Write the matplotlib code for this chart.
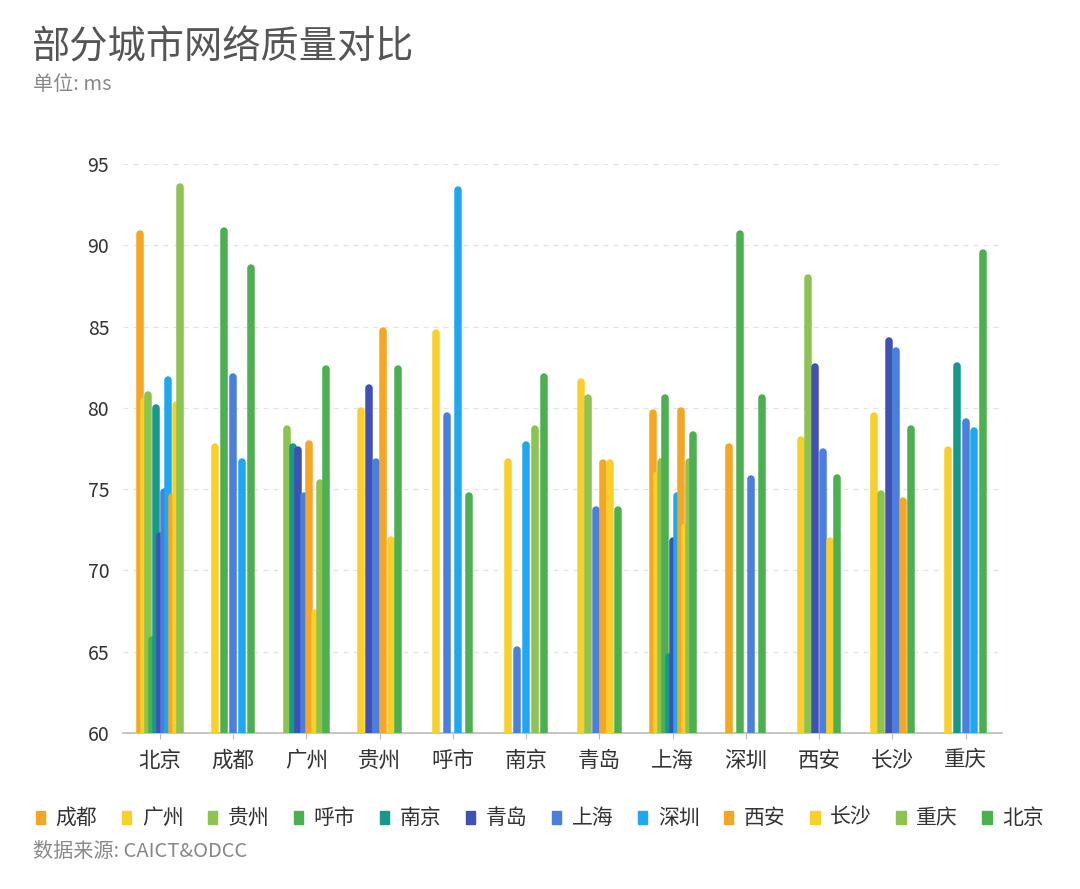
import numpy as np
import matplotlib
matplotlib.use("Agg")
import matplotlib.pyplot as plt
from matplotlib.patches import Rectangle

plt.rcParams['font.family'] = ['Noto Sans CJK SC', 'DejaVu Sans']

# x categories (city groups) and series (legend order)
cities = ['北京', '成都', '广州', '贵州', '呼市', '南京', '青岛', '上海', '深圳', '西安', '长沙', '重庆']
series = ['成都', '广州', '贵州', '呼市', '南京', '青岛', '上海', '深圳', '西安', '长沙', '重庆', '北京']
colors = ['#F5A623', '#F9D02A', '#8DC350', '#4CAF50', '#17998A', '#3F51B5',
          '#4A7FDB', '#1DA8F0', '#F5A623', '#F9D02A', '#8DC350', '#4CAF50']

N = None
# values per series, one entry per city group (None = no bar)
v_chengdu   = [90.9, N, N, N, N, N, N, 79.9, 77.8, N, N, N]
v_guangzhou = [80.6, 77.8, N, 80.0, 84.8, 76.9, 81.8, 76.1, N, 78.2, 79.7, 77.6]
v_guizhou   = [81.0, N, 78.9, N, N, N, 80.8, 76.9, N, 88.2, 74.9, N]
v_hushi     = [65.9, 91.1, N, N, N, N, N, 80.8, 90.9, N, N, N]
v_nanjing   = [80.2, N, 77.8, N, N, N, N, 64.9, N, N, N, 82.8]
v_qingdao   = [72.3, N, 77.6, 81.4, N, N, N, 72.0, N, 82.7, 84.3, N]
v_shanghai  = [75.0, 82.1, 74.8, 76.9, 79.7, 65.3, 73.9, N, 75.8, 77.5, 83.7, 79.3]
v_shenzhen  = [81.9, 76.9, N, N, 93.6, 77.9, N, 74.8, N, N, N, 78.8]
v_xian      = [74.7, N, 78.0, 84.9, N, N, 76.8, 80.0, N, N, 74.5, N]
v_changsha  = [80.4, N, 67.6, 72.1, N, N, 76.8, 72.9, N, 72.0, N, N]
v_chongqing = [93.8, N, 75.6, N, N, 78.9, N, 76.9, N, N, N, N]
v_beijing   = [N, 88.8, 82.6, 82.6, 74.8, 82.1, 73.9, 78.5, 80.8, 75.9, 78.9, 89.7]

values = [v_chengdu, v_guangzhou, v_guizhou, v_hushi, v_nanjing, v_qingdao,
          v_shanghai, v_shenzhen, v_xian, v_changsha, v_chongqing, v_beijing]

fig = plt.figure(figsize=(10.8, 8.89), dpi=100)
ax = fig.add_axes([0.114, 0.1755, 0.814, 0.640])

group_w = 0.6
base = 60
for ci in range(len(cities)):
    present = [si for si in range(len(series)) if values[si][ci] is not None]
    n = len(present)
    for k, si in enumerate(present):
        x = ci + (k + 0.5 - n / 2) * group_w / n
        # rounded bar: thick line with round cap, trimmed so cap top sits at the value
        ax.plot([x, x], [base, values[si][ci] - 0.2], color=colors[si], linewidth=5.4,
                solid_capstyle='round', zorder=3)

ax.set_xlim(-0.5, len(cities) - 0.5)
ax.set_ylim(60, 95)
ax.set_yticks(np.arange(60, 96, 5))
ax.set_xticks(range(len(cities)))
ax.set_xticklabels(cities, fontsize=15.5, color='#333333')
ax.tick_params(axis='y', length=0, pad=10, labelsize=14, labelcolor='#333333')
ax.tick_params(axis='x', length=4, color='#bbbbbb', pad=8)
for y in range(65, 96, 5):
    ax.axhline(y, color='#e3e3e3', linestyle=(0, (4, 4)), linewidth=0.9, zorder=1)
for s in ['top', 'right', 'left']:
    ax.spines[s].set_visible(False)
ax.spines['bottom'].set_color('#bbbbbb')
ax.spines['bottom'].set_linewidth(1.2)

fig.text(0.029, 0.946, '部分城市网络质量对比', fontsize=27.5, color='#555555', va='center')
fig.text(0.031, 0.905, '单位: ms', fontsize=14.5, color='#888888', va='center')

# legend row
lx = 0.033
ly = 0.080
for name, col in zip(series, colors):
    fig.patches.append(Rectangle((lx, ly - 0.0065), 0.0085, 0.014, transform=fig.transFigure,
                                 color=col, figure=fig))
    fig.text(lx + 0.0185, ly, name, fontsize=15, color='#333333', va='center')
    lx += 0.0797

fig.text(0.031, 0.042, '数据来源: CAICT&ODCC', fontsize=14.5, color='#888888', va='center')

fig.savefig('out.png', dpi=100, facecolor='white')
